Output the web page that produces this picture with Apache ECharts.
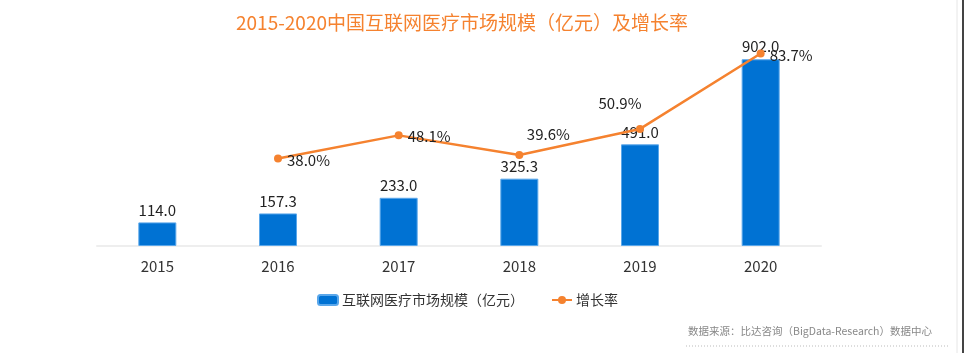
<!DOCTYPE html>
<html>
<head>
<meta charset="utf-8">
<script src="https://cdn.jsdelivr.net/npm/echarts@6/dist/echarts.min.js"></script>
<style>
  html, body { margin: 0; padding: 0; background: #fff; }
  #chart { width: 964px; height: 353px; }
</style>
</head>
<body>
<div id="chart"></div>
<script>
var years = ['2015', '2016', '2017', '2018', '2019', '2020']
var marketSize = [114.0, 157.3, 233.0, 325.3, 491.0, 902.0]
var growthRate = [null, 38.0, 48.1, 39.6, 50.9, 83.7]

var font = '"Noto Sans CJK SC", "Noto Sans", sans-serif'

// label offsets per point, as in the original
var rateLabels = [
  {},
  { position: 'right', offset: [0, 2] },
  { position: 'right', offset: [0, 1] },
  { position: 'top', offset: [29, -4] },
  { position: 'top', offset: [-20, -9] },
  { position: 'right', offset: [0, 2] }
]

var chart = echarts.init(document.getElementById('chart'))
var option = {
  textStyle: { fontFamily: font },
  title: {
    text: '2015-2020中国互联网医疗市场规模（亿元）及增长率',
    left: 457,
    textAlign: 'center',
    top: 8,
    textStyle: { color: '#f5822f', fontSize: 19, fontWeight: 'normal', fontFamily: font }
  },
  legend: {
    left: 312,
    top: 288,
    itemGap: 27,
    itemWidth: 20,
    itemHeight: 10,
    textStyle: { fontSize: 14, color: '#333', fontFamily: font, padding: [0, 0, 0, -1] },
    data: ['互联网医疗市场规模（亿元）', '增长率']
  },
  grid: { left: 97, right: 143, top: 39, bottom: 107 },
  xAxis: {
    type: 'category',
    data: years,
    axisTick: { show: false },
    axisLine: { lineStyle: { color: '#eeeeee', width: 2 } },
    axisLabel: { fontSize: 15, color: '#333', margin: 13, fontFamily: font }
  },
  yAxis: [
    { type: 'value', min: 0, max: 1000, show: false, splitLine: { show: false } },
    { type: 'value', min: 0, max: 90, show: false, splitLine: { show: false } }
  ],
  series: [
    {
      name: '互联网医疗市场规模（亿元）',
      type: 'bar',
      barWidth: 38,
      data: marketSize,
      itemStyle: { color: '#0072d3', borderColor: '#5aa7ea', borderWidth: 1 },
      label: {
        show: true,
        position: 'top',
        distance: 5,
        fontSize: 15,
        color: '#222',
        fontFamily: font,
        formatter: function (p) { return p.value.toFixed(1) }
      }
    },
    {
      name: '增长率',
      type: 'line',
      yAxisIndex: 1,
      data: growthRate.map(function (v, i) {
        return { value: v, label: rateLabels[i] }
      }),
      symbol: 'circle',
      symbolSize: 8,
      lineStyle: { color: '#f5822f', width: 2.5 },
      itemStyle: { color: '#f5822f' },
      label: {
        show: true,
        fontSize: 15,
        color: '#222',
        fontFamily: font,
        formatter: function (p) { return p.value.toFixed(1) + '%' }
      }
    }
  ],
  graphic: [
    {
      type: 'text',
      left: 688,
      top: 326,
      style: {
        text: '数据来源：比达咨询（BigData-Research）数据中心',
        fill: '#888',
        fontSize: 10.5,
        fontFamily: font
      }
    },
    {
      type: 'line',
      shape: { x1: 686, y1: 346, x2: 950, y2: 346 },
      style: { stroke: '#bbb', lineWidth: 1, lineDash: [1, 2] }
    },
    {
      type: 'line',
      shape: { x1: 957, y1: 0, x2: 957, y2: 353 },
      style: { stroke: '#e6e6e6', lineWidth: 1 }
    },
    {
      type: 'line',
      shape: { x1: 963, y1: 0, x2: 963, y2: 353 },
      style: { stroke: '#444', lineWidth: 2 }
    }
  ]
}
chart.setOption(option)
</script>
</body>
</html>
